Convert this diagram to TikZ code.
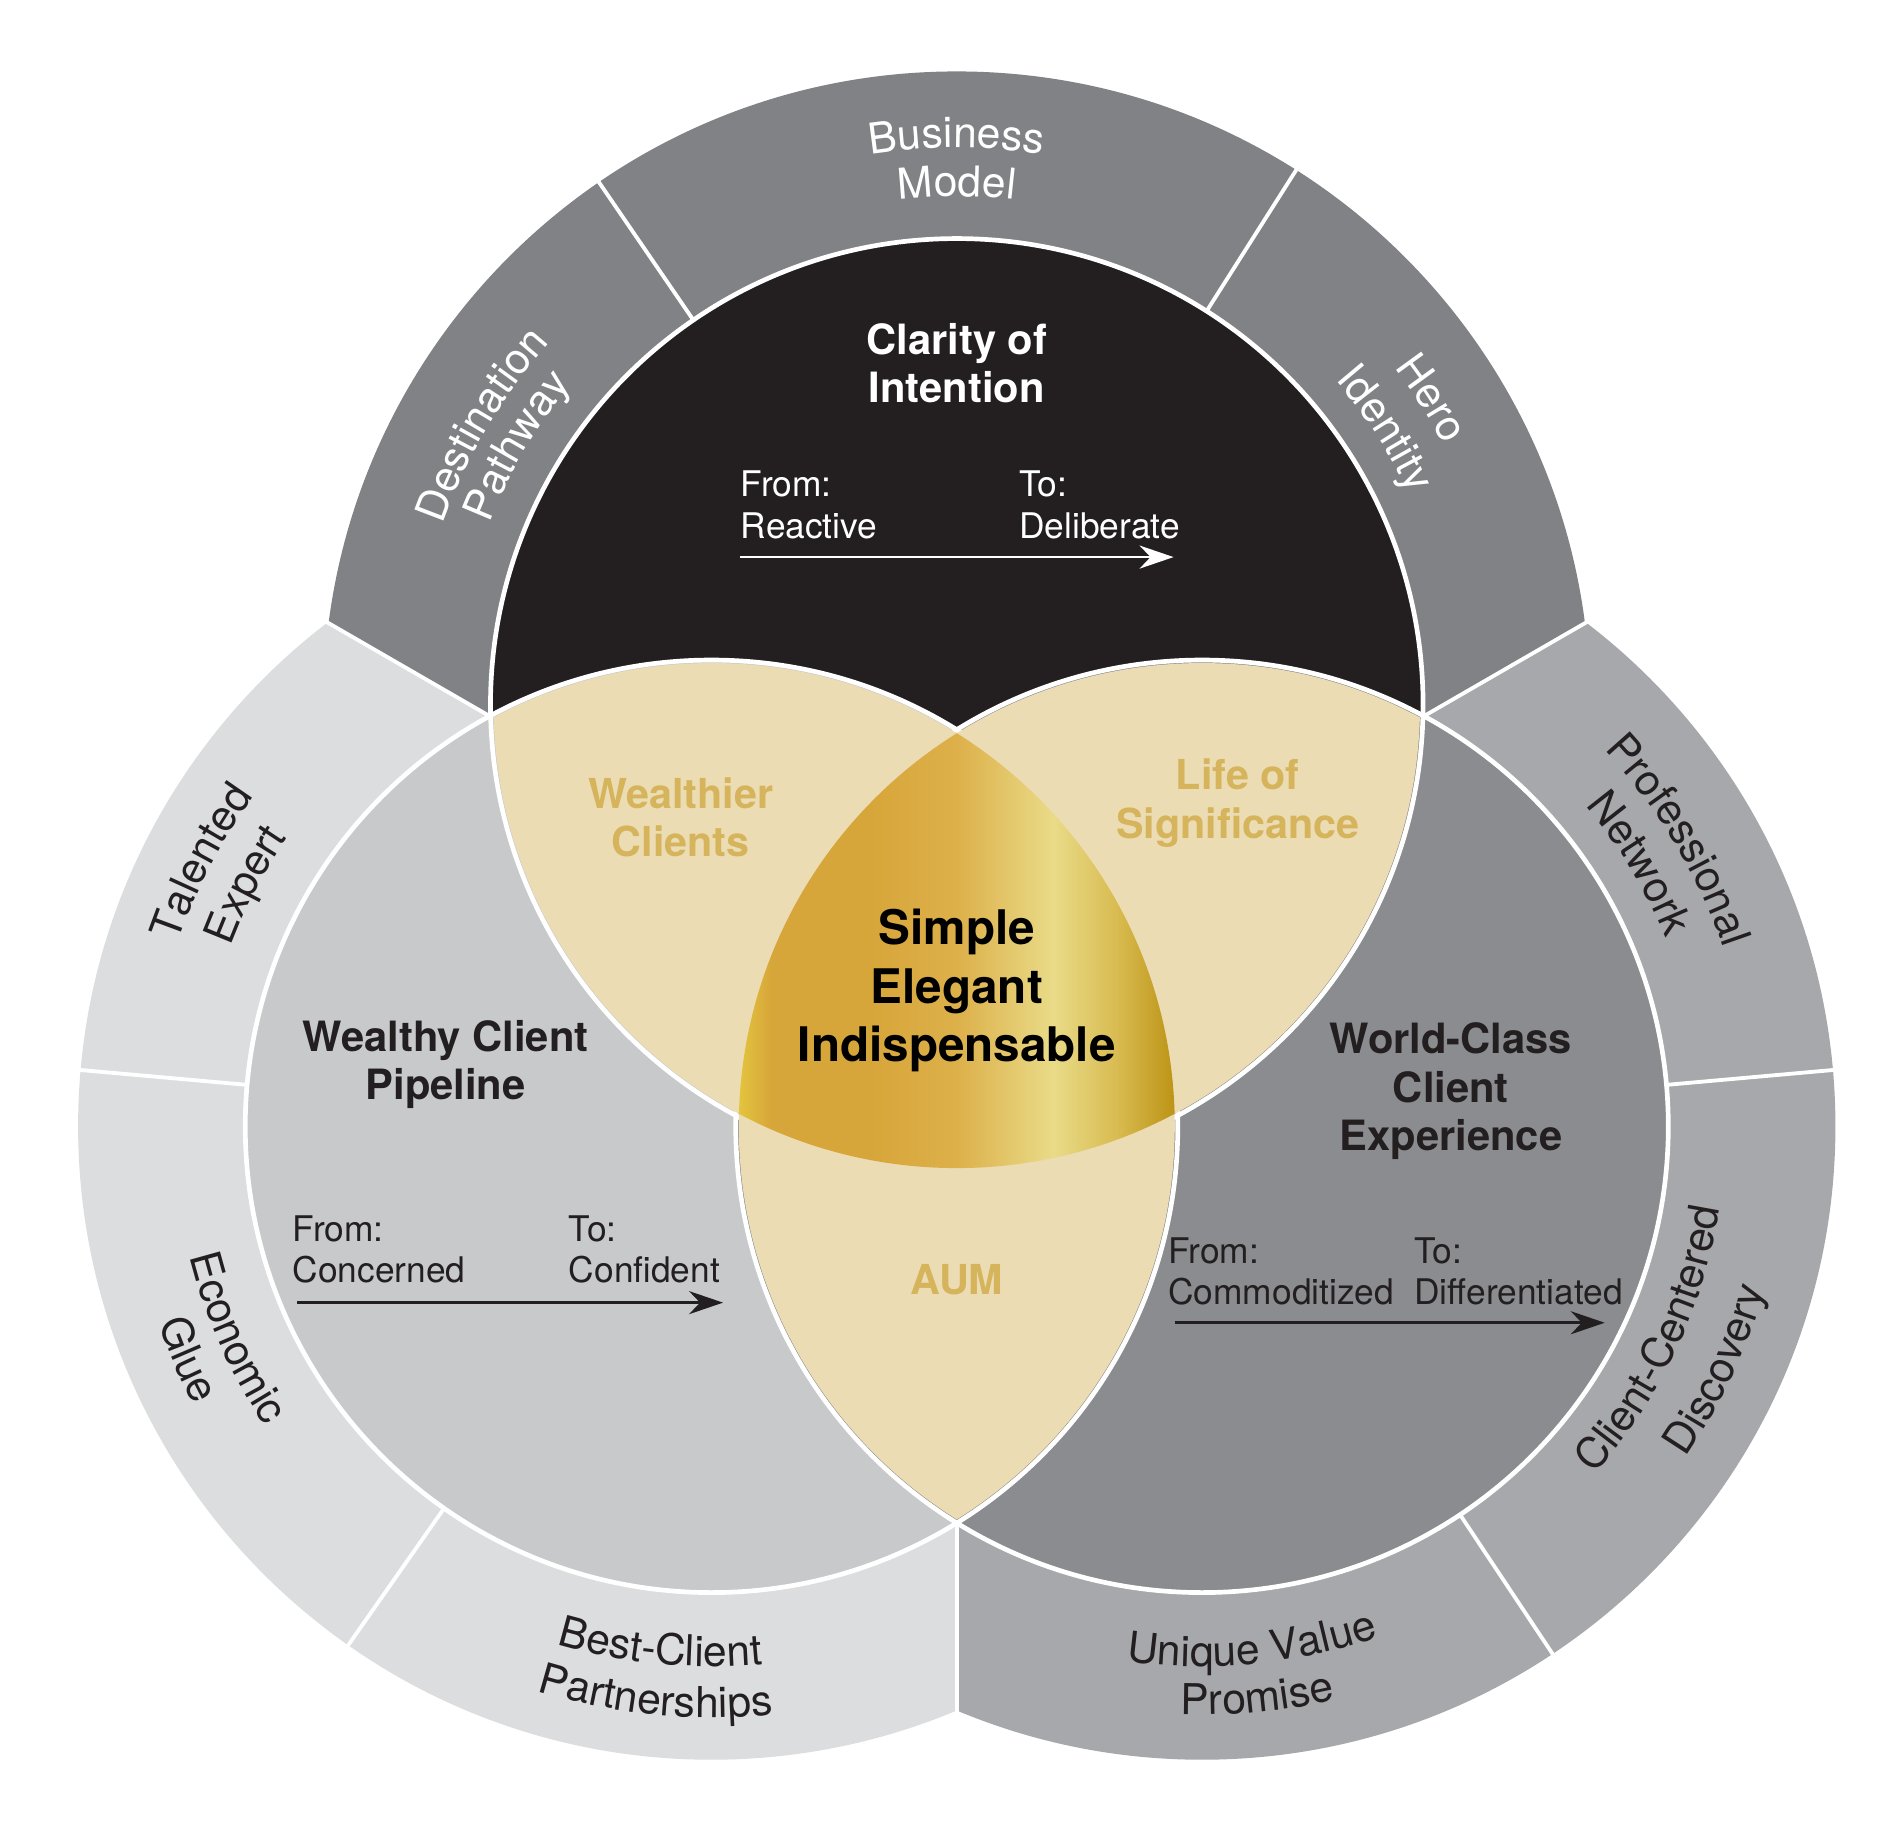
\documentclass[tikz,border=0pt]{standalone}
\usepackage{fontspec}
\setmainfont{TeX Gyre Heros}
\usepackage{tikz}
\usetikzlibrary{arrows.meta,decorations.text}
\definecolor{ink}{HTML}{231F20}
\definecolor{topring}{HTML}{818285}
\definecolor{leftring}{HTML}{DCDDDE}
\definecolor{rightring}{HTML}{A7A8AB}
\definecolor{topcirc}{HTML}{231F20}
\definecolor{leftcirc}{HTML}{C8C9CB}
\definecolor{rightcirc}{HTML}{8B8C8F}
\definecolor{lensfill}{HTML}{ECDCB4}
\definecolor{lensgold}{HTML}{D6B45C}
\definecolor{goldA}{HTML}{E4C63E}
\definecolor{goldB}{HTML}{D7A63A}
\definecolor{goldC}{HTML}{DDB04A}
\definecolor{goldD}{HTML}{E9DB88}
\definecolor{goldE}{HTML}{D9BC52}
\definecolor{goldF}{HTML}{BB9214}
\pgfdeclarehorizontalshading{goldshade}{100bp}{color(0bp)=(goldA); color(25bp)=(goldA); color(29bp)=(goldB); color(40bp)=(goldB); color(50bp)=(goldC); color(61bp)=(goldD); color(68bp)=(goldE); color(75bp)=(goldF); color(100bp)=(goldF)}
\newcommand{\ringfont}{\fontsize{10}{12}\selectfont}
% text on an arc: centre, start angle, end angle, radius, colour, text
\newcommand{\arclabel}[6]{%
  \path[decorate, decoration={text along path, text align=center,
      text color=#5, text={|\ringfont|#6}}]
    (#1) ++(#2:#4) arc[start angle=#2, end angle=#3, radius=#4];}

\begin{document}
\begin{tikzpicture}[
    ringsep/.style={white, line width=0.9pt},
    circtitle/.style={font=\fontsize{9.8}{11.4}\selectfont\bfseries, align=center, text=ink},
    lenslabel/.style={font=\fontsize{9.7}{11.4}\selectfont\bfseries, align=center, text=lensgold},
    fromto/.style={font=\fontsize{8.3}{9.7}\selectfont, align=left, anchor=west, inner sep=0pt},
    flow/.style={-{Stealth[length=2.8mm,width=1.9mm,inset=0.9mm]}, line width=0.6pt}
]
    \useasboundingbox (0,0) rectangle (15.68,15.04);
    \fill[white] (0,0) rectangle (15.68,15.04);

    % === CENTRES ===
    \coordinate (ct) at (7.90,9.22);
    \coordinate (cl) at (5.875,5.74);
    \coordinate (cr) at (9.925,5.74);
    \coordinate (cg) at (7.90,6.90);

    % === OUTER RINGS ===
    \foreach \cc/\col/\a/\b in {ct/topring/30/150, cl/leftring/150/270, cr/rightring/270/390} {
        \begin{scope}[shift={(cg)}]
            \clip (0,0) -- (\a:10) -- ({(\a+\b)/2}:12) -- (\b:10) -- cycle;
            \fill[\col] (\cc) circle (5.23);
        \end{scope}
    }
    \foreach \a in {30,150,270}
        \draw[ringsep] (cg) -- ++(\a:6.3);
    \foreach \cc/\a in {ct/57.6, ct/124.4, cl/174.9, cl/235.0, cr/5.1, cr/303.6}
        \draw[ringsep] (\cc) ++(\a:3.8) -- ++(\a:1.6);

    % === INNER CIRCLES ===
    \fill[topcirc] (ct) circle (3.85);
    \fill[leftcirc] (cl) circle (3.85);
    \fill[rightcirc] (cr) circle (3.85);
    \foreach \cc in {ct,cl,cr}
        \draw[white, line width=1.1pt] (\cc) circle (3.85);

    % === OVERLAPS ===
    \foreach \p/\q in {ct/cl, ct/cr, cl/cr} {
        \begin{scope}
            \clip (\p) circle (3.825);
            \fill[lensfill] (\q) circle (3.825);
        \end{scope}
    }
    \begin{scope}
        \clip (ct) circle (3.825);
        \clip (cl) circle (3.825);
        \clip (cr) circle (3.825);
        \shade[shading=goldshade] (6.08,5.35) rectangle (9.72,9.05);
    \end{scope}

    % === RING LABELS ===
    \arclabel{ct}{125}{55}{4.60}{white}{Business}
    \arclabel{ct}{125}{55}{4.20}{white}{Model}
    \arclabel{ct}{184.5}{114.5}{4.50}{white}{Destination}
    \arclabel{ct}{184.5}{114.5}{4.14}{white}{Pathway}
    \arclabel{ct}{67.8}{-2.2}{4.56}{white}{Hero}
    \arclabel{ct}{67.8}{-2.2}{4.12}{white}{Identity}

    \arclabel{cl}{187.6}{117.6}{4.66}{ink}{Talented}
    \arclabel{cl}{187.6}{117.6}{4.24}{ink}{Expert}
    \arclabel{cl}{169}{239}{4.44}{ink}{Economic}
    \arclabel{cl}{169}{239}{4.85}{ink}{Glue}
    \arclabel{cl}{229.4}{299.4}{4.46}{ink}{Best-Client}
    \arclabel{cl}{229.4}{299.4}{4.88}{ink}{Partnerships}

    \arclabel{cr}{66}{-4}{4.55}{ink}{Professional}
    \arclabel{cr}{66}{-4}{4.13}{ink}{Network}
    \arclabel{cr}{-60.3}{9.7}{4.33}{ink}{Client-Centered}
    \arclabel{cr}{-60.3}{9.7}{4.84}{ink}{Discovery}
    \arclabel{cr}{240.5}{310.5}{4.46}{ink}{Unique Value}
    \arclabel{cr}{240.5}{310.5}{4.86}{ink}{Promise}

    % === CIRCLE TITLES ===
    \node[circtitle, text=white] (clarity) at (7.90,12.04) {Clarity of\\Intention};
    \node[circtitle] (pipeline) at (3.68,6.25) {Wealthy Client\\Pipeline};
    \node[circtitle] (worldclass) at (11.98,6.03) {World-Class\\Client\\Experience};
    \node[font=\fontsize{11.2}{13.7}\selectfont\bfseries, align=center, text=black] (core) at (7.90,6.86) {Simple\\Elegant\\Indispensable};
    \node[lenslabel] (wealthier) at (5.62,8.29) {Wealthier\\Clients};
    \node[lenslabel] (significance) at (10.22,8.41) {Life of\\Significance};
    \node[lenslabel] (aum) at (7.90,4.47) {AUM};

    % === FROM / TO ===
    \node[fromto, text=white] (topfrom) at (6.11,10.87) {From:\\Reactive};
    \node[fromto, text=white] (topto) at (8.41,10.87) {To:\\Deliberate};
    \node[fromto, text=ink] (leftfrom) at (2.41,4.725) {From:\\Concerned};
    \node[fromto, text=ink] (leftto) at (4.69,4.725) {To:\\Confident};
    \node[fromto, text=ink] (rightfrom) at (9.64,4.54) {From:\\Commoditized};
    \node[fromto, text=ink] (rightto) at (11.67,4.54) {To:\\Differentiated};

    \coordinate (topa) at (6.11,10.44);
    \coordinate (topb) at (9.69,10.44);
    \coordinate (lefta) at (2.455,4.284);
    \coordinate (leftb) at (5.97,4.284);
    \coordinate (righta) at (9.70,4.118);
    \coordinate (rightb) at (13.25,4.118);
    \draw[flow, white] (topa) -- (topb);
    \draw[flow, ink] (lefta) -- (leftb);
    \draw[flow, ink] (righta) -- (rightb);
\end{tikzpicture}
\end{document}
